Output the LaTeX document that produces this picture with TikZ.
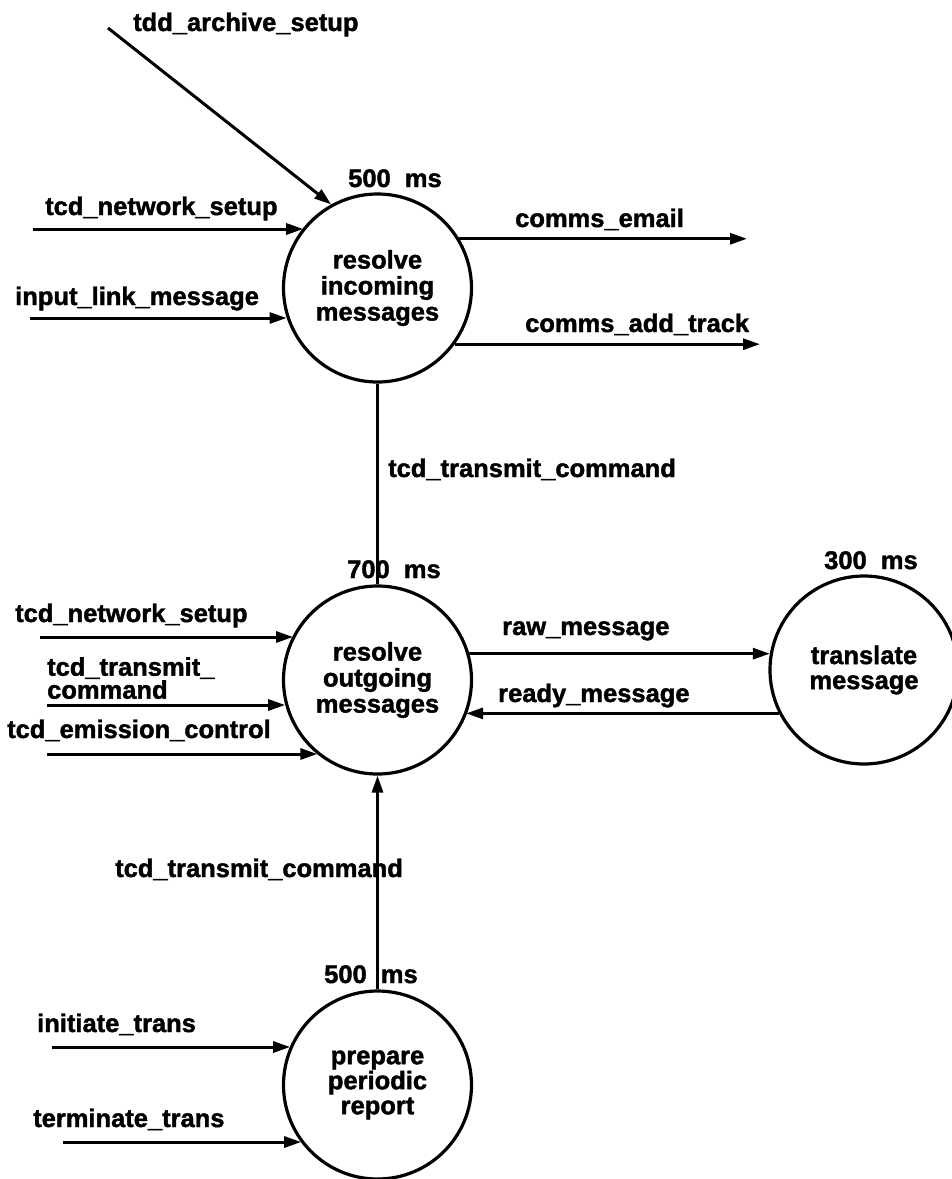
\documentclass[tikz,border=0pt]{standalone}
\usepackage{fontspec}
\setmainfont{Liberation Sans}[BoldFeatures={FakeBold=1.6}]
\usetikzlibrary{arrows.meta}
\tikzset{
  txt/.style={font=\fontsize{25.5}{26}\selectfont\bfseries, inner sep=0pt},
  lbl/.style={txt, anchor=base west},
  tim/.style={txt, anchor=base},
  proc/.style={circle, draw, line width=3.2pt, minimum size=188pt, inner sep=0pt,
               align=center, txt},
  flow/.style={line width=3pt, -{Triangle[length=17pt,width=11pt]}},
  link/.style={line width=3pt}
}
\begin{document}
\begin{tikzpicture}[x=1pt,y=-1pt]
\useasboundingbox (0,0) rectangle (952,1179);

% processes
\node[proc] (c1) at (377.5,288) {resolve\\incoming\\messages};
\node[proc] (c2) at (377.5,680) {resolve\\outgoing\\messages};
\node[proc, font=\fontsize{25.5}{25}\selectfont\bfseries] (c3) at (864,670) {translate\\message};
\node[proc, font=\fontsize{25.5}{25}\selectfont\bfseries] (c4) at (377.5,1085) {prepare\\periodic\\report};

% timing labels
\node[tim] (t1) at (395,187) {500~~ms};
\node[tim] (t2) at (394,578) {700~~ms};
\node[tim] (t3) at (871,569) {300~~ms};
\node[tim] (t4) at (371,983) {500~~ms};

% free ends
\coordinate (sA) at (108,28);
\coordinate (sB) at (33,229);
\coordinate (sC) at (30,318);
\coordinate (eD) at (747,239);
\coordinate (eE) at (760,342);
\coordinate (sF) at (40,637);
\coordinate (sG) at (47,705);
\coordinate (sH) at (47,754);
\coordinate (sI) at (52,1047);
\coordinate (sJ) at (63,1142);

% flows into / out of resolve incoming
\draw[flow] (sA) -- (c1.119.5);
\draw[flow] (sB) -- (sB -| c1.141.1);
\draw[flow] (sC) -- (sC -| c1.198.6);
\draw[flow] (c1.31.4) -- (c1.31.4 -| eD);
\draw[flow] (c1.324.9) -- (c1.324.9 -| eE);
\draw[link] (c1.south) -- (c2.north);

% flows into resolve outgoing
\draw[flow] (sF) -- (sF -| c2.152.8);
\draw[flow] (sG) -- (sG -| c2.195.4);
\draw[flow] (sH) -- (sH -| c2.231.8);
\draw[flow] (c2.16.1) -- (c2.16.1 -| c3.170.2);
\draw[flow] (c3.207.9) -- (c3.207.9 -| c2.338.8);
\draw[flow] (c4.north) -- (c2.south);

% flows into prepare periodic report
\draw[flow] (sI) -- (sI -| c4.156.2);
\draw[flow] (sJ) -- (sJ -| c4.217.3);

% flow labels
\node[lbl] (lA) at (133,31) {tdd\_archive\_setup};
\node[lbl] (lB) at (45,215) {tcd\_network\_setup};
\node[lbl] (lC) at (15,305) {input\_link\_message};
\node[lbl] (lD) at (515,227) {comms\_email};
\node[lbl] (lE) at (525,332) {comms\_add\_track};
\node[lbl] (lK) at (388,477) {tcd\_transmit\_command};
\node[lbl] (lF) at (15,622) {tcd\_network\_setup};
\node[txt, anchor=north west, align=left, font=\fontsize{25.5}{23}\selectfont\bfseries] (lG) at (47,657) {tcd\_transmit\_\\command};
\node[lbl] (lH) at (7,738) {tcd\_emission\_control};
\node[lbl] (lL) at (502,635) {raw\_message};
\node[lbl] (lM) at (498,702) {ready\_message};
\node[lbl] (lN) at (115,877) {tcd\_transmit\_command};
\node[lbl] (lI) at (37,1032) {initiate\_trans};
\node[lbl] (lJ) at (33,1127) {terminate\_trans};
\end{tikzpicture}
\end{document}
